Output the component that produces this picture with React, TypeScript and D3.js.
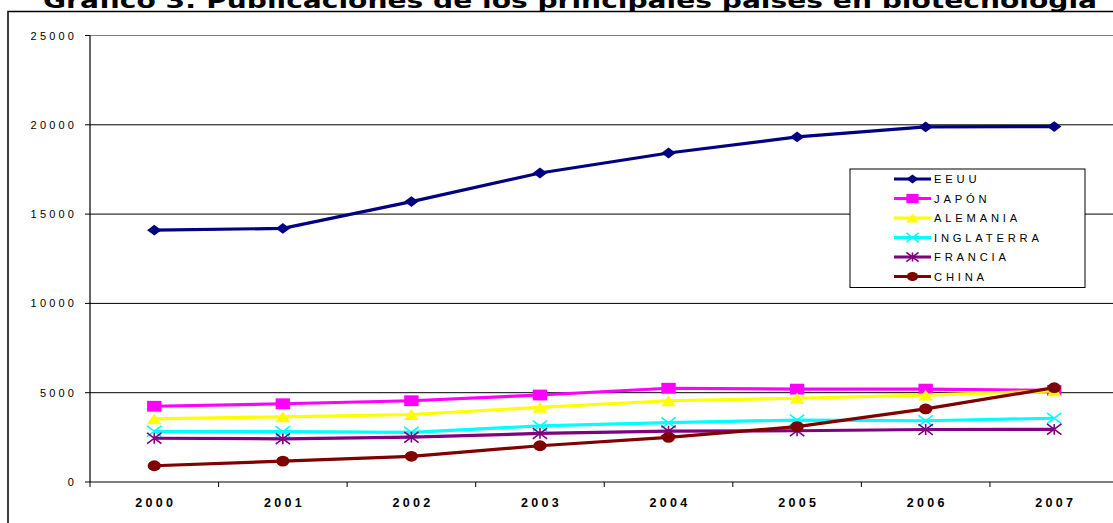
import React from "react";
import * as d3 from "d3";

const years = ["2000", "2001", "2002", "2003", "2004", "2005", "2006", "2007"];
const eeuu = [14100, 14200, 15700, 17300, 18420, 19320, 19880, 19900];
const japon = [4240, 4380, 4550, 4870, 5250, 5200, 5200, 5130];
const alemania = [3540, 3650, 3780, 4180, 4550, 4690, 4860, 5100];
const inglaterra = [2840, 2820, 2780, 3140, 3320, 3470, 3430, 3570];
const francia = [2450, 2420, 2510, 2720, 2850, 2870, 2940, 2950];
const china = [910, 1170, 1440, 2030, 2500, 3100, 4090, 5280];
const yTicks = [0, 5000, 10000, 15000, 20000, 25000];
const title = "Gráfico 3: Publicaciones de los principales países en biotecnología";

type Series = { name: string; values: number[]; color: string; marker: string };
const series: Series[] = [
  { name: "EEUU", values: eeuu, color: "#000080", marker: "diamond" },
  { name: "JAPÓN", values: japon, color: "#FF00FF", marker: "square" },
  { name: "ALEMANIA", values: alemania, color: "#FFFF00", marker: "triangle" },
  { name: "INGLATERRA", values: inglaterra, color: "#00FFFF", marker: "x" },
  { name: "FRANCIA", values: francia, color: "#800080", marker: "star" },
  { name: "CHINA", values: china, color: "#800000", marker: "circle" },
];

function Marker({ type, cx, cy, color, s = 1 }: { type: string; cx: number; cy: number; color: string; s?: number }) {
  const w = 7.2 * s, h = 5.4 * s;
  switch (type) {
    case "diamond":
      return <path d={`M${cx - w},${cy}L${cx},${cy - h}L${cx + w},${cy}L${cx},${cy + h}Z`} fill={color} />;
    case "square":
      return <rect x={cx - w} y={cy - h} width={2 * w} height={2 * h} fill={color} />;
    case "triangle":
      return <path d={`M${cx - w},${cy + h}L${cx},${cy - h}L${cx + w},${cy + h}Z`} fill={color} />;
    case "x":
      return (
        <path d={`M${cx - w},${cy - h}L${cx + w},${cy + h}M${cx - w},${cy + h}L${cx + w},${cy - h}`} stroke={color} strokeWidth={1.6} />
      );
    case "star":
      return (
        <path
          d={`M${cx - w},${cy - h}L${cx + w},${cy + h}M${cx - w},${cy + h}L${cx + w},${cy - h}M${cx},${cy - h}L${cx},${cy + h}`}
          stroke={color}
          strokeWidth={1.6}
        />
      );
    default:
      return <ellipse cx={cx} cy={cy} rx={w * 0.92} ry={h} fill={color} />;
  }
}

export default function App() {
  const W = 1113, H = 523;
  const x = d3.scaleBand<string>().domain(years).range([90, 1118.5]);
  const bw = x.bandwidth();
  const cx = (yr: string) => (x(yr) as number) + bw / 2;
  const y = d3.scaleLinear().domain([0, 25000]).range([482, 35.5]);
  const line = d3
    .line<number>()
    .x((_, i) => cx(years[i]))
    .y((d) => y(d));
  const axisFont = "'Liberation Sans', Arial, sans-serif";
  const legendY0 = 179, legendStep = 19.5;

  return (
    <svg width={W} height={H} style={{ position: "absolute", left: 0, top: 0, background: "#fff" }}>
      <rect x={0} y={0} width={W} height={H} fill="#fff" />
      <rect x={8} y={11.5} width={1300} height={700} fill="none" stroke="#000" strokeWidth={1.5} />
      <text
        x={43}
        y={7.5}
        fontFamily="'DejaVu Sans', Verdana, sans-serif"
        fontWeight="bold"
        fontSize={22}
        textLength={1054}
        lengthAdjust="spacingAndGlyphs"
        fill="#000"
      >
        {title}
      </text>
      {/* gridlines */}
      {yTicks.slice(1).map((t) => (
        <line key={t} x1={90} x2={1118} y1={y(t)} y2={y(t)} stroke={t === 25000 ? "#808080" : "#000"} strokeWidth={1} />
      ))}
      {/* y axis */}
      <line x1={90} x2={90} y1={y(25000)} y2={y(0)} stroke="#000" strokeWidth={1.2} />
      {yTicks.map((t) => (
        <g key={t}>
          <line x1={85} x2={90} y1={y(t)} y2={y(t)} stroke="#000" strokeWidth={1} />
          <text
            x={74 + 3.2}
            y={y(t) + 4}
            textAnchor="end"
            fontFamily={axisFont}
            fontSize={11}
            letterSpacing={3.2}
            fill="#000"
          >
            {t}
          </text>
        </g>
      ))}
      {/* x axis */}
      <line x1={90} x2={1118} y1={y(0)} y2={y(0)} stroke="#000" strokeWidth={1.2} />
      {years.concat(["end"]).map((yr, i) => {
        const xx = 90 + i * bw;
        return <line key={yr} x1={xx} x2={xx} y1={y(0)} y2={y(0) + 5} stroke="#000" strokeWidth={1} />;
      })}
      {years.map((yr) => (
        <text
          key={yr}
          x={cx(yr) + 1.6}
          y={506.7}
          textAnchor="middle"
          fontFamily={axisFont}
          fontWeight="bold"
          fontSize={12.5}
          letterSpacing={3.3}
          fill="#000"
        >
          {yr}
        </text>
      ))}
      {/* series */}
      {series.map((s) => (
        <g key={s.name}>
          <path d={line(s.values) || ""} fill="none" stroke={s.color} strokeWidth={3.2} />
          {s.values.map((v, i) => (
            <Marker key={i} type={s.marker} cx={cx(years[i])} cy={y(v)} color={s.color} />
          ))}
        </g>
      ))}
      {/* legend */}
      <rect x={850} y={169} width={235} height={118.5} fill="#fff" stroke="#000" strokeWidth={1} />
      {series.map((s, i) => {
        const ly = legendY0 + i * legendStep;
        return (
          <g key={s.name}>
            <line x1={894} x2={931} y1={ly} y2={ly} stroke={s.color} strokeWidth={3} />
            <Marker type={s.marker} cx={912.5} cy={ly} color={s.color} s={0.85} />
            <text x={934} y={ly + 4.2} fontFamily={axisFont} fontSize={11.2} letterSpacing={3.8} fill="#000">
              {s.name}
            </text>
          </g>
        );
      })}
    </svg>
  );
}
